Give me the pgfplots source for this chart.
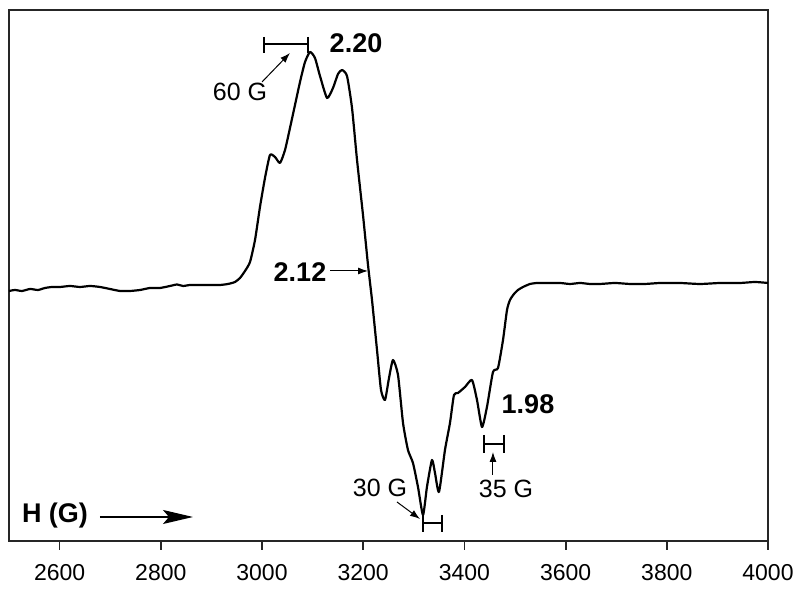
\documentclass[border=0pt]{standalone}
\usepackage{fontspec}
\setmainfont{Liberation Sans}
\usepackage{pgfplots}
\pgfplotsset{compat=1.18}
\usetikzlibrary{arrows.meta}

\begin{document}
\begin{tikzpicture}
\path[use as bounding box] (-4.5pt,-25.5pt) rectangle (395.5pt,270.5pt);
\begin{axis}[
  at={(0,0)}, anchor=south west,
  scale only axis,
  width=379.5pt, height=265.5pt,
  xmin=2500, xmax=4000,
  ymin=-256, ymax=275,
  xtick={2600,2800,...,4000},
  ytick=\empty,
  xtick pos=bottom,
  tick align=outside,
  major tick length=4.5pt,
  every tick/.style={black!85, line width=0.9pt},
  axis line style={black!85, line width=0.9pt},
  /pgf/number format/assume math mode=true,
  /pgf/number format/1000 sep={},
  xticklabel style={font=\fontsize{11.5}{13}\selectfont, yshift=-3.5pt},
  clip=false,
]
\addplot[black, line width=1.1pt, line join=round, smooth, tension=0.35] coordinates {
  (2500,-6) (2511.9,-5) (2525.7,-6) (2541.5,-4) (2557.3,-5) (2571.1,-3)
  (2585.0,-2) (2600.8,-2) (2620.6,-1) (2640.3,-2) (2660.1,-1) (2679.8,-2)
  (2699.6,-4) (2719.4,-6) (2739.1,-6) (2758.9,-5) (2778.7,-3) (2798.4,-3)
  (2818.2,-1) (2832.0,0.5) (2843.9,-1) (2857.7,0) (2877.5,0) (2897.2,0)
  (2917.0,0) (2932.8,1) (2946.6,3) (2956.5,7) (2966.4,14) (2976.3,23)
  (2986.2,45) (2996.0,78) (3005.9,107) (3015.8,130) (3025.7,128)
  (3035.6,122) (3045.5,135) (3055.3,157) (3065.2,180) (3075.1,203)
  (3085.0,223) (3094.9,233) (3104.7,227) (3114.6,209) (3128.5,187)
  (3140.3,197) (3150.2,211) (3158.1,215) (3168.0,209) (3177.9,177)
  (3187.8,125) (3199.6,70) (3209.5,20) (3217.4,-15) (3227.3,-65)
  (3235.2,-105) (3243.1,-115) (3251.0,-93) (3258.9,-75) (3268.8,-90)
  (3278.7,-138) (3288.5,-165) (3298.4,-178) (3308.3,-202) (3318.2,-230)
  (3326.0,-202) (3335.9,-175) (3341.9,-188) (3349.8,-207) (3361.6,-165)
  (3371.5,-138) (3379.4,-110) (3387.3,-108) (3401.2,-102) (3415.0,-95)
  (3424.9,-115) (3434.8,-142) (3444.6,-122) (3456.5,-87) (3466.4,-83)
  (3476.3,-55) (3484.2,-25) (3490.1,-15) (3498.0,-9) (3505.9,-5)
  (3515.8,-2) (3529.6,1) (3543.5,2) (3559.3,2) (3589.0,2) (3608.7,1)
  (3628.5,2) (3648.2,1) (3668.0,1) (3697.6,2) (3727.3,1) (3756.9,1)
  (3786.6,2) (3826.1,2) (3865.6,1) (3905.1,2) (3944.7,2) (3974.3,3)
  (4000,2)
};

% g-value labels
\node[font=\fontsize{13.5}{15}\selectfont\bfseries] at (axis cs:3185.8,242) {2.20};
\node[font=\fontsize{13.5}{15}\selectfont\bfseries] at (axis cs:3075.1,13) {2.12};
\node[font=\fontsize{13.5}{15}\selectfont\bfseries] at (axis cs:3525.7,-119) {1.98};
\draw[-{Latex[length=5pt,width=3.5pt]}, line width=0.5pt] (axis cs:3134.4,14) -- (axis cs:3209.5,14);

% 60 G
\draw[line width=0.6pt] (axis cs:3004.0,241) -- (axis cs:3090.9,241);
\draw[line width=0.6pt] (axis cs:3004.0,248) -- (axis cs:3004.0,232);
\draw[line width=0.6pt] (axis cs:3090.9,248) -- (axis cs:3090.9,232);
\draw[-{Latex[length=5pt,width=3.5pt]}, line width=0.5pt] (axis cs:3000.0,203) -- (axis cs:3055.3,232);
\node[font=\fontsize{12.5}{14}\selectfont] at (axis cs:2956.5,193) {60 G};

% 30 G
\draw[line width=0.6pt] (axis cs:3318.2,-238) -- (axis cs:3355.7,-238);
\draw[line width=0.6pt] (axis cs:3318.2,-230) -- (axis cs:3318.2,-247);
\draw[line width=0.6pt] (axis cs:3355.7,-230) -- (axis cs:3355.7,-247);
\draw[-{Latex[length=5pt,width=3.5pt]}, line width=0.5pt] (axis cs:3266.8,-217) -- (axis cs:3312.3,-234);
\node[font=\fontsize{12.5}{14}\selectfont] at (axis cs:3233.2,-203) {30 G};

% 35 G
\draw[line width=0.6pt] (axis cs:3438.7,-159) -- (axis cs:3478.3,-159);
\draw[line width=0.6pt] (axis cs:3438.7,-150) -- (axis cs:3438.7,-168);
\draw[line width=0.6pt] (axis cs:3478.3,-150) -- (axis cs:3478.3,-168);
\draw[-{Latex[length=5pt,width=3.5pt]}, line width=0.5pt] (axis cs:3456.5,-190) -- (axis cs:3456.5,-167);
\node[font=\fontsize{12.5}{14}\selectfont] at (axis cs:3482.2,-204) {35 G};

% field direction
\node[font=\fontsize{13.5}{15}\selectfont\bfseries] at (axis cs:2590.9,-231) {H (G)};
\draw[-{Stealth[length=15pt,width=7pt,inset=3pt]}, line width=0.6pt] (axis cs:2679.8,-232) -- (axis cs:2863.6,-232);
\end{axis}
\end{tikzpicture}
\end{document}
